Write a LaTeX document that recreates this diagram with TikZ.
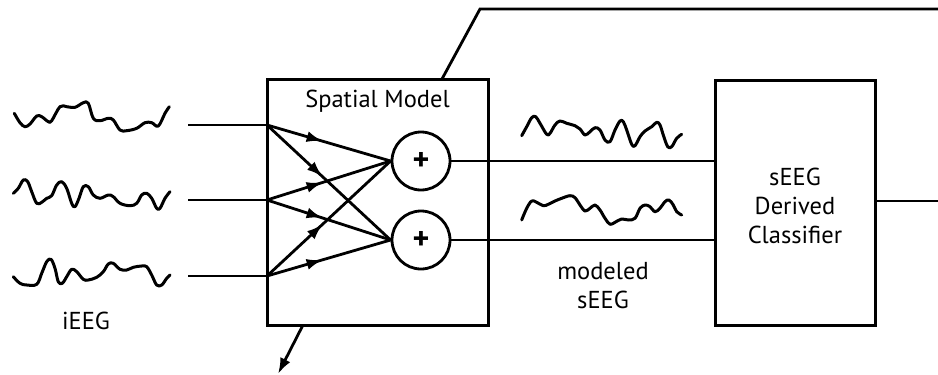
\documentclass[tikz,border=0pt]{standalone}
\usepackage{fontspec}
\setmainfont{PT Sans}
\usetikzlibrary{arrows.meta,decorations.markings}

\begin{document}
\begin{tikzpicture}[x=1pt,y=-1pt,
  wire/.style={line width=2.8pt},
  boxed/.style={draw, line width=3pt, inner sep=0pt},
  sumnode/.style={circle, draw, line width=2.8pt, minimum size=58pt, inner sep=0pt,
    font=\fontsize{32}{32}\selectfont\bfseries},
  wave/.style={line width=3pt, line join=round, line cap=round},
  label/.style={font=\fontsize{24.5}{29}\selectfont, align=center, inner sep=0pt},
  feed/.style={wire, postaction={decorate},
    decoration={markings, mark=at position 0.45 with {\arrow{Latex[length=16pt,width=11pt]}}}}]

\useasboundingbox (0,0) rectangle (938,375);

% spatial model block and its summing junctions
\node[boxed, minimum width=221pt, minimum height=246pt] (sm) at (377.5,202) {};
\node[label] (smtitle) at (377.5,101) {Spatial Model};
\node[sumnode] (s1) at (421,161) {+};
\node[sumnode] (s2) at (421,240) {+};

% classifier block
\node[boxed, minimum width=160pt, minimum height=245pt] (cl) at (795,202.5) {};
\node[label] (cltext) at (795,205.5) {sEEG\\Derived\\Classifier};

% input channels
\coordinate (in1) at (188,125);
\coordinate (in2) at (188,200);
\coordinate (in3) at (188,276);
\coordinate (j1) at (267,125);
\coordinate (j2) at (267,200);
\coordinate (j3) at (267,276);
\draw[wire] (in1) -- (j1);
\draw[wire] (in2) -- (j2);
\draw[wire] (in3) -- (j3);

% weighted connections into the sums
\foreach \j in {j1,j2,j3} {
  \draw[feed] (\j) -- (s1.west);
  \draw[feed] (\j) -- (s2.west);
}

% modeled outputs to the classifier
\draw[wire] (s1.east) -- (s1.east -| cl.west);
\draw[wire] (s2.east) -- (s2.east -| cl.west);

% classifier output
\coordinate (clout) at (938,201);
\draw[wire] (cl.east |- clout) -- (clout);

% lead-out from the top of the spatial model
\coordinate (tp) at (442,79);
\coordinate (bend) at (480,9);
\coordinate (tend) at (938,9);
\draw[wire] (tp) -- (bend) -- (tend);

% arrow out of the bottom of the spatial model
\coordinate (bp) at (303,325);
\coordinate (btip) at (278,374);
\draw[wire, -{Latex[length=16pt,width=11pt]}] (bp) -- (btip);

% labels
\node[label] (ieeg) at (86,321) {iEEG};
\node[label] (mseeg) at (603,286) {modeled\\sEEG};

% intracranial traces
\draw[wave] plot[smooth, tension=0.6] coordinates {
 (14.3,113.3) (20,122.7) (25,126.7) (30,124) (36.7,116) (41.7,116.7) (48.3,121.7)
 (51.7,120.7) (60,106.7) (66.7,106.7) (75,107.3) (83.3,102.7) (88.3,103.3)
 (93.3,118.3) (100,120.7) (108.3,118.3) (113.3,120) (120,130) (126.7,130.7)
 (136.7,128.3) (145,122.7) (151.7,122.7) (158.3,126) (165,113.3) (169.3,106.7)};
\draw[wave] plot[smooth, tension=0.6] coordinates {
 (13.3,193.3) (18.3,188.3) (23.3,180) (27.7,181.7) (31.7,191.7) (36.7,203.3)
 (41.7,202.3) (46.7,198.3) (51.7,195.7) (56.7,185) (61.7,181.7) (66.7,188.3)
 (71.7,203.3) (75,206.7) (79,198.3) (83.3,186.7) (88.3,186.7) (93.3,195)
 (100,198.3) (108.3,195) (113.3,196.7) (120,203.3) (130,205.7) (136.7,203.3)
 (141.7,195) (146.7,193.3) (151.7,198.3) (156.7,208.3) (160,208.3) (165,198.3)
 (170,191.7)};
\draw[wave] plot[smooth, tension=0.6] coordinates {
 (13.3,276.7) (20,283.3) (26.7,285) (36.7,284.3) (41.7,273.3) (46.7,261.7)
 (51,259.3) (55,268.3) (58.3,281.7) (62.3,283.3) (66.7,276.7) (71.7,269.3)
 (76.7,271.7) (83.3,279.3) (88.3,280) (96.7,277.3) (103.3,271.7) (108.3,264)
 (113.3,263.3) (120,269.3) (126.7,270) (133.3,267.3) (141.7,266) (146.7,266.7)
 (151.7,275) (156.7,285) (161.7,285) (166.7,278.3) (170,275)};

% modeled scalp traces
\draw[wave] plot[smooth, tension=0.6] coordinates {
 (521.7,135.7) (526.7,126.7) (531.7,117.7) (535.7,116.7) (540,123.3) (546.7,134.3)
 (550,133.3) (555,125) (560,121) (566.7,123.3) (575,125.7) (580,129) (585,135)
 (590,131.7) (595,127.7) (600,130) (605,140) (610,141.7) (615,130) (620,121)
 (623.3,121.7) (626.7,130) (631.7,144.3) (635,145.7) (640,136.7) (645,131)
 (651.7,126.7) (656.7,122.3) (660,125) (663.3,135) (667.7,146.7) (671.7,146.7)
 (676.7,138.3) (681.7,134.3)};
\draw[wave] plot[smooth, tension=0.6] coordinates {
 (521.7,220) (526.7,208.3) (531.7,201) (536.7,202.3) (543.3,205.7) (548.3,204.3)
 (555,201) (561.7,198.3) (570,195.7) (575,197.7) (580,205) (585,211) (590,208.3)
 (595,205) (600,210) (605,218.3) (610,224.3) (615,222.3) (621.7,219) (628.3,220)
 (635,218.3) (640,208.3) (645,205) (650,206.7) (655,211.7) (660,208.3)
 (665,201.7) (669,200) (673.3,205) (676.7,211.7) (681.7,215)};
\end{tikzpicture}
\end{document}
